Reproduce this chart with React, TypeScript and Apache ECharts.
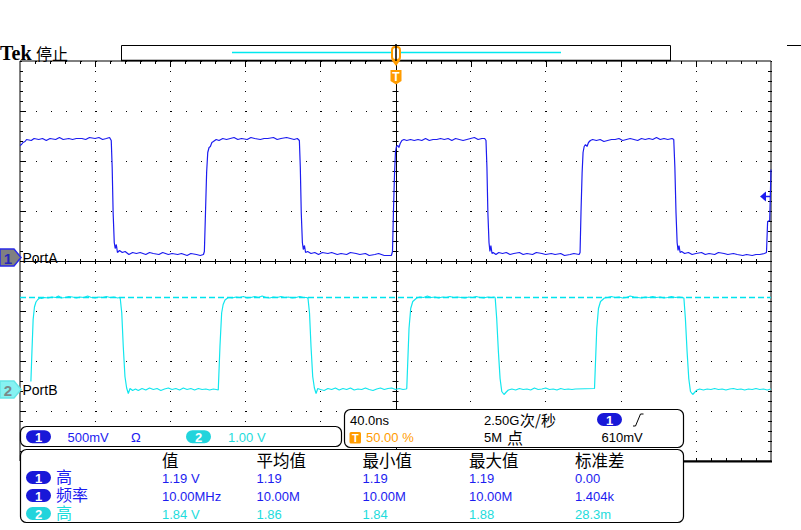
import React, { useEffect, useRef } from "react";
import * as echarts from "echarts";

// ---------------- data ----------------
const timeMin = -200; // ns (40 ns/div, trigger at centre)
const timeMax = 200;
const timeDiv = 40;

// channel 1 (500 mV/div) samples: [time ns, volts]
const ch1Wave: [number, number][] = [
  [-200, 1.12], [-199.2, 1.13], [-198.4, 1.15], [-197.3, 1.16], [-196.5, 1.18], [-194, 1.17], [-192.5, 1.19], [-190, 1.18], [-188, 1.19], [-186, 1.17], [-184, 1.19], [-181, 1.18], [-179, 1.2], [-177, 1.18], [-174, 1.19], [-172, 1.18], [-170, 1.19], [-167, 1.19], [-165, 1.18], [-163, 1.2], [-160, 1.19], [-158, 1.2], [-156, 1.18], [-154, 1.19], [-152.3, 1.2],
  [-151.4, 1.17], [-150.9, 0.9], [-150.4, 0.45], [-149.8, 0.15], [-149.3, 0.09], [-148.7, 0.13], [-148.1, 0.05], [-147, 0.07], [-145.5, 0.05], [-144, 0.06], [-142, 0.03], [-140, 0.05], [-138, 0.04], [-136, 0.05], [-133, 0.03], [-131, 0.05], [-129, 0.04], [-126, 0.03], [-124, 0.05], [-121, 0.03], [-119, 0.04], [-116, 0.03], [-114, 0.04], [-111, 0.02], [-109, 0.04], [-106, 0.03], [-104, 0.02], [-102.3, 0.03],
  [-101.8, 0.06], [-101.2, 0.45], [-100.6, 0.85], [-100, 1.05], [-99.3, 1.1], [-98.6, 1.11], [-97.8, 1.15], [-97, 1.16], [-95.5, 1.18], [-94, 1.17], [-92, 1.19], [-90, 1.18], [-88, 1.19], [-86, 1.2], [-84, 1.18], [-82, 1.19], [-79, 1.18], [-77, 1.2], [-75, 1.19], [-72, 1.18], [-70, 1.19], [-68, 1.19], [-65, 1.2], [-63, 1.18], [-61, 1.19], [-58, 1.2], [-56, 1.19], [-54, 1.18], [-52.3, 1.19],
  [-51.2, 1.17], [-50.7, 0.9], [-50.2, 0.45], [-49.6, 0.15], [-49.1, 0.08], [-48.5, 0.12], [-47.9, 0.05], [-46.8, 0.06], [-45, 0.04], [-43, 0.05], [-41, 0.03], [-39, 0.05], [-36, 0.04], [-34, 0.05], [-31, 0.03], [-29, 0.04], [-26, 0.03], [-24, 0.05], [-21, 0.04], [-19, 0.03], [-16, 0.04], [-14, 0.02], [-11, 0.03], [-9, 0.04], [-6, 0.02], [-4, 0.02], [-2.2, 0.02],
  [-1.6, 0.06], [-1.1, 0.45], [-0.5, 0.85], [0, 1.06], [0.5, 1.11], [1.2, 1.12], [1.8, 1.1], [2.5, 1.14], [3.4, 1.17], [4.5, 1.18], [6, 1.17], [8, 1.18], [10, 1.17], [12, 1.18], [14, 1.17], [16, 1.19], [18, 1.17], [20, 1.18], [22, 1.18], [24, 1.19], [26, 1.18], [28, 1.19], [30, 1.17], [32, 1.19], [34, 1.18], [36, 1.17], [38, 1.18], [40, 1.19], [42, 1.2], [44, 1.18], [46, 1.19], [47.5, 1.19],
  [48.2, 1.17], [48.7, 0.9], [49.2, 0.45], [49.8, 0.15], [50.3, 0.06], [50.8, 0.12], [51.4, 0.04], [52, 0.05], [53.5, 0.03], [55, 0.05], [57, 0.04], [59, 0.05], [61, 0.03], [63, 0.04], [66, 0.05], [68, 0.03], [70, 0.04], [73, 0.03], [75, 0.05], [78, 0.04], [80, 0.03], [83, 0.04], [85, 0.03], [88, 0.04], [90, 0.02], [93, 0.03], [95, 0.04], [97.8, 0.03],
  [98.3, 0.05], [98.8, 0.45], [99.4, 0.85], [99.9, 1.05], [100.5, 1.11], [101.2, 1.13], [102, 1.11], [102.8, 1.15], [103.8, 1.17], [105, 1.18], [107, 1.17], [109, 1.18], [111, 1.16], [113, 1.17], [115, 1.18], [117, 1.18], [119, 1.19], [121, 1.17], [123, 1.18], [125, 1.19], [127, 1.18], [129, 1.17], [131, 1.19], [133, 1.18], [135, 1.19], [137, 1.18], [139, 1.2], [141, 1.18], [143, 1.19], [145, 1.18], [147.3, 1.19],
  [148.2, 1.18], [148.8, 0.9], [149.4, 0.45], [150, 0.15], [150.5, 0.07], [151, 0.12], [151.6, 0.05], [152.4, 0.06], [154, 0.04], [156, 0.05], [158, 0.03], [160, 0.04], [163, 0.05], [165, 0.03], [167, 0.04], [170, 0.03], [172, 0.05], [175, 0.04], [177, 0.03], [180, 0.04], [182, 0.03], [185, 0.02], [187, 0.03], [190, 0.02], [192, 0.03], [194, 0.03], [196.5, 0.04],
  [197.6, 0.05], [198.2, 0.36], [199.3, 0.37], [200, 0.88],
];

// channel 2 (1.00 V/div) samples: [time ns, volts]
const ch2Wave: [number, number][] = [
  [-194.2, 0.16], [-193.6, 0.8], [-193, 1.4], [-192.3, 1.65], [-191.5, 1.75], [-190.5, 1.8], [-189.5, 1.83], [-188.5, 1.82], [-187, 1.84], [-185, 1.83], [-183, 1.85], [-181, 1.84], [-179.5, 1.87], [-178, 1.83], [-176, 1.84], [-174, 1.86], [-172, 1.85], [-170, 1.83], [-168, 1.85], [-166, 1.84], [-164, 1.87], [-162, 1.84], [-160, 1.83], [-158, 1.85], [-156, 1.84], [-154, 1.86], [-152, 1.84], [-150, 1.85], [-148, 1.83], [-147, 1.84],
  [-146.6, 1.82], [-145.8, 1.53], [-145, 0.86], [-144.1, 0.26], [-143.2, 0.03], [-142.3, -0.08], [-141.4, 0.02], [-140, -0.02], [-138.5, 0.01], [-137, -0.02], [-135, 0.02], [-133, -0.01], [-131, 0.03], [-129, 0.0], [-127, 0.02], [-125, -0.02], [-123, 0.01], [-121, 0.03], [-119, 0.0], [-117, 0.02], [-115, -0.01], [-113, 0.03], [-111, 0.0], [-109, 0.02], [-107, -0.01], [-105, 0.02], [-103, 0.0], [-101, 0.01], [-99, -0.01], [-97, 0.01], [-95.5, 0.0],
  [-94.4, -0.01], [-93.5, 0.86], [-92.6, 1.53], [-91.8, 1.7], [-90.8, 1.79], [-89.1, 1.84], [-87, 1.83], [-85, 1.85], [-83, 1.84], [-81, 1.86], [-79, 1.83], [-77, 1.84], [-75, 1.86], [-73, 1.84], [-71, 1.87], [-69, 1.84], [-67, 1.83], [-65, 1.85], [-63, 1.84], [-61, 1.86], [-59, 1.84], [-57, 1.85], [-55, 1.83], [-53, 1.84], [-51, 1.86], [-49, 1.84], [-47.2, 1.84],
  [-46.6, 1.82], [-45.8, 1.53], [-45, 0.86], [-44.1, 0.26], [-43.2, 0.03], [-42.3, -0.08], [-41.4, 0.02], [-40, 0.0], [-38, -0.02], [-36, 0.02], [-34, 0.0], [-32, 0.03], [-30, -0.01], [-28, 0.02], [-26, 0.0], [-24, 0.03], [-22, -0.01], [-20, 0.01], [-18, 0.0], [-16, 0.03], [-14, 0.0], [-12, -0.02], [-10, 0.01], [-8, 0.03], [-6, 0.0], [-4, 0.02], [-2, 0.03], [0, 0.0], [2, 0.02], [4, 0.0], [5.6, 0.01],
  [6, 0.02], [7.2, 1.22], [8.1, 1.62], [9.2, 1.76], [11.3, 1.83], [13, 1.85], [15, 1.84], [17, 1.87], [19, 1.84], [21, 1.85], [23, 1.83], [25, 1.85], [27, 1.84], [29, 1.86], [31, 1.84], [33, 1.85], [35, 1.84], [37, 1.83], [39, 1.85], [41, 1.84], [43, 1.86], [45, 1.84], [47, 1.83], [49, 1.85], [51, 1.84], [52.8, 1.85],
  [53.1, 1.83], [53.9, 1.42], [54.8, 0.76], [55.7, 0.22], [56.6, -0.04], [57.8, -0.1], [59, -0.05], [60.1, -0.01], [62, 0.01], [64, -0.01], [66, 0.02], [68, 0.0], [70, 0.01], [72, -0.01], [74, 0.03], [76, 0.0], [78, 0.01], [80, 0.03], [82, 0.0], [84, 0.01], [86, -0.01], [88, 0.02], [90, 0.0], [92, 0.01], [94, 0.0], [95.8, 0.01],
  [106, 0.02], [107.2, 1.22], [108.1, 1.62], [109.2, 1.76], [111.3, 1.83], [113, 1.84], [115, 1.86], [117, 1.84], [119, 1.85], [121, 1.83], [123, 1.84], [125, 1.87], [127, 1.85], [129, 1.84], [131, 1.83], [133, 1.85], [135, 1.84], [137, 1.86], [139, 1.84], [141, 1.85], [143, 1.83], [145, 1.84], [147, 1.86], [149, 1.84], [151, 1.85], [152.8, 1.84],
  [153.6, 1.83], [154.4, 1.42], [155.3, 0.76], [156.2, 0.22], [157.1, -0.04], [158.3, -0.1], [159.5, -0.05], [160.6, -0.01], [162, 0.01], [164, -0.01], [166, 0.01], [168, 0.0], [170, 0.02], [172, 0.0], [174, 0.01], [176, -0.01], [178, 0.01], [180, 0.02], [182, 0.0], [184, 0.01], [186, -0.01], [188, 0.01], [190, 0.0], [192, 0.02], [194, 0.0], [196, 0.01], [198, -0.01], [200, 0.01],
];

// vertical settings (volts at bottom/top of the 8-division screen)
const ch1Range = [-2.035, 1.965]; // 500 mV/div
const ch2Range = [-1.43, 6.57]; // 1.00 V/div
const ch2HighRef = 1.84;
const ch1TrigLevel = 0.61;

const ch1Label = "PortA";
const ch2Label = "PortB";
const readout = ["500mV", "Ω", "1.00 V"];
const timebaseTexts = ["40.0ns", "2.50G", "次/秒", "50.00 %", "5M", "点", "610mV"];
const measHeaders = ["值", "平均值", "最小值", "最大值", "标准差"];
const measChannels = ["1", "1", "2"];
const measNames = ["高", "频率", "高"];
const measValues = [
  ["1.19 V", "1.19", "1.19", "1.19", "0.00"],
  ["10.00MHz", "10.00M", "10.00M", "10.00M", "1.404k"],
  ["1.84 V", "1.86", "1.84", "1.88", "28.3m"],
];

// ---------------- styles ----------------
const BLUE = "#1c1cf0";
const BLUE_BADGE = "#1818d8";
const CYAN = "#12e6ee";
const CYAN_TEXT = "#1edcdc";
const CYAN_BADGE = "#22d4dc";
const ORANGE = "#ff9c00";
const SANS = '"Liberation Sans", Arial, sans-serif';
const CJK = '"Noto Sans CJK SC", "Noto Sans CJK JP", sans-serif';
// compact line box for the tightly stacked measurement table (CJK glyphs fall back to Noto Sans CJK)
const CJK_TIGHT = '"Liberation Serif", "Noto Sans CJK SC", sans-serif';

const G = { left: 20, top: 61, width: 751, height: 400 };

export default function App() {
  const ref = useRef<HTMLDivElement>(null);

  useEffect(() => {
    if (!ref.current) return;
    const chart = echarts.init(ref.current, undefined, { renderer: "svg" });

    const L = G.left, T = G.top, R = G.left + G.width, B = G.top + G.height;
    const CX = L + G.width / 2;
    const CY = T + G.height / 2;
    const px = (v: number) => Math.round(v) + 0.5;

    const el: any[] = [];
    const line = (x1: number, y1: number, x2: number, y2: number, stroke = "#000", lw = 1, z = 1) =>
      el.push({ type: "line", z, silent: true, shape: { x1, y1, x2, y2 }, style: { stroke, lineWidth: lw } });
    const txt = (x: number, y: number, text: string, o: any = {}) => {
      const size = o.size ?? 13;
      el.push({
        type: "text", x, y, z: o.z ?? 120, silent: true,
        style: {
          text, fill: o.color ?? "#000", fontSize: size, fontFamily: o.family ?? SANS,
          fontWeight: o.weight ?? "normal", align: o.align ?? "left", verticalAlign: "middle",
          lineHeight: o.lh ?? Math.round(size * 0.95),
        },
      });
    };
    const badge = (cx: number, cy: number, label: string, fill: string) => {
      el.push({ type: "rect", z: 115, silent: true, shape: { x: cx - 12.5, y: cy - 6.5, width: 25, height: 13, r: 6.5 }, style: { fill } });
      txt(cx, cy + 0.5, label, { color: "#fff", weight: "bold", size: 13, align: "center", lh: 12 });
    };

    // graticule crosshair and ticks
    line(px(CX), T, px(CX), B, "#000", 1, 1);
    line(L, px(CY), R, px(CY), "#000", 1, 1);
    const dxm = G.width / 50;
    const dym = G.height / 40;
    for (let i = 1; i < 50; i++) {
      const x = px(L + i * dxm);
      const major = i % 5 === 0;
      line(x, T, x, T + (major ? 6 : 3));
      line(x, CY - 2, x, CY + 3);
      line(x, B - 3, x, B);
    }
    for (let j = 1; j < 40; j++) {
      const y = px(T + j * dym);
      const major = j % 5 === 0;
      line(L, y, L + (major ? 6 : 3), y);
      line(CX - 3, y, CX + 3, y);
      line(R - 3, y, R, y);
    }
    line(683, B + 0.5, R + 1, B + 0.5, "#000", 2, 2);

    // header
    el.push({ type: "text", x: 0, y: 53, z: 120, style: { text: "Tek", fill: "#000", fontSize: 20, fontWeight: "bold", fontFamily: '"Liberation Serif", serif', verticalAlign: "middle", lineHeight: 18 } });
    txt(36, 52.5, "停止", { size: 16, family: CJK });
    el.push({ type: "rect", z: 5, shape: { x: 121.5, y: 45.5, width: 549, height: 15 }, style: { fill: "#fff", stroke: "#000", lineWidth: 1 } });
    line(121, 60.5, 671, 60.5, "#000", 1.5, 6);
    line(232, 52.5, 561, 52.5, "#00e8ee", 1.5, 6);
    line(787, 45.5, 801, 45.5, "#000", 1, 6);
    // trigger position marker in record view
    el.push({ type: "rect", z: 7, shape: { x: 392, y: 47, width: 8, height: 13, r: 3 }, style: { fill: "#fff", stroke: ORANGE, lineWidth: 2 } });
    el.push({ type: "polygon", z: 7, shape: { points: [[391.5, 60], [400.5, 60], [396, 66]] }, style: { fill: ORANGE } });
    line(396, 44, 396, 61, "#000", 1.5, 8);
    // T marker
    el.push({ type: "polygon", z: 7, shape: { points: [[390.5, 70], [401.5, 70], [401.5, 81], [396, 84.5], [390.5, 81]] }, style: { fill: ORANGE } });
    txt(396, 76.5, "T", { color: "#fff", weight: "bold", size: 12, align: "center", z: 9 });

    // panels
    const panel = (x: number, y: number, w: number, h: number) =>
      el.push({ type: "rect", z: 100, shape: { x, y, width: w, height: h, r: 6 }, style: { fill: "#fff", stroke: "#000", lineWidth: 1.2 } });
    panel(20.5, 426.5, 321, 20);
    panel(344.5, 409.5, 339, 38);
    panel(20.5, 449.5, 663, 73);

    // channel readout
    badge(38.5, 436.7, "1", BLUE_BADGE);
    txt(67.5, 437, readout[0], { color: BLUE });
    txt(131, 437, readout[1], { color: BLUE });
    badge(198.5, 436.7, "2", CYAN_BADGE);
    txt(228, 437, readout[2], { color: CYAN_TEXT });

    // timebase / trigger
    txt(350, 420, timebaseTexts[0]);
    txt(484, 420, timebaseTexts[1]);
    txt(520, 419.5, timebaseTexts[2], { family: CJK, size: 15 });
    badge(609.5, 419.5, "1", BLUE_BADGE);
    el.push({ type: "polyline", z: 120, shape: { points: [[633, 426], [635.5, 426], [640.5, 414], [643.5, 414]] }, style: { stroke: "#000", lineWidth: 1, fill: null } });
    el.push({ type: "rect", z: 115, shape: { x: 349.5, y: 432, width: 11.5, height: 11.5, r: 1.5 }, style: { fill: ORANGE } });
    txt(355.3, 438, "T", { color: "#fff", weight: "bold", size: 11, align: "center" });
    txt(366, 437.5, timebaseTexts[3], { color: ORANGE });
    txt(484, 437.5, timebaseTexts[4]);
    txt(507, 437, timebaseTexts[5], { family: CJK, size: 16 });
    txt(601.5, 437.5, timebaseTexts[6]);

    // measurements
    const colX = [162, 256.5, 362.5, 469, 575];
    const rowY = [478, 496, 514];
    measHeaders.forEach((h, i) => txt(colX[i], 461, h, { family: CJK_TIGHT, size: 16.5, lh: 15 }));
    measValues.forEach((row, r) => {
      const isCh2 = measChannels[r] === "2";
      const col = isCh2 ? CYAN_TEXT : BLUE;
      badge(38.5, rowY[r] - 0.5, measChannels[r], isCh2 ? CYAN_BADGE : BLUE_BADGE);
      txt(56, rowY[r] - 0.5, measNames[r], { family: CJK_TIGHT, size: 16, color: col, lh: 15 });
      row.forEach((v, c) => txt(colX[c], rowY[r], v, { color: col, lh: 13 }));
    });

    const option: any = {
      animation: false,
      backgroundColor: "#fff",
      grid: { left: G.left, top: G.top, width: G.width, height: G.height, show: true, borderColor: "#000", borderWidth: 1 },
      xAxis: {
        type: "value", min: timeMin, max: timeMax, interval: timeDiv,
        axisLine: { show: false }, axisTick: { show: false }, axisLabel: { show: false },
        splitLine: { show: true, lineStyle: { color: "#000", width: 1, type: [1, 9] } },
      },
      yAxis: [
        {
          type: "value", min: -4, max: 4, interval: 1,
          axisLine: { show: false }, axisTick: { show: false }, axisLabel: { show: false },
          splitLine: { show: true, lineStyle: { color: "#000", width: 1, type: [1, 14], dashOffset: -1 } },
        },
        { type: "value", min: ch1Range[0], max: ch1Range[1], show: false },
        { type: "value", min: ch2Range[0], max: ch2Range[1], show: false },
      ],
      series: [
        {
          type: "line", xAxisIndex: 0, yAxisIndex: 2, data: ch2Wave, showSymbol: false, symbol: "none",
          lineStyle: { color: CYAN, width: 1.2 }, z: 3, silent: true,
          markLine: {
            silent: true, symbol: "none", label: { show: false },
            lineStyle: { color: "#00e4ee", type: [6, 3], width: 1.3, opacity: 1 },
            data: [{ yAxis: ch2HighRef }],
          },
        },
        {
          type: "line", xAxisIndex: 0, yAxisIndex: 1, data: ch1Wave, showSymbol: false, symbol: "none",
          lineStyle: { color: BLUE, width: 1.2 }, z: 4, silent: true,
        },
      ],
      graphic: { elements: el },
    };
    chart.setOption(option);

    // markers placed through the axes' own scales
    const g1 = chart.convertToPixel({ xAxisIndex: 0, yAxisIndex: 1 } as any, [timeMin, 0]) as number[];
    const g2 = chart.convertToPixel({ xAxisIndex: 0, yAxisIndex: 2 } as any, [timeMin, 0]) as number[];
    const tr = chart.convertToPixel({ xAxisIndex: 0, yAxisIndex: 1 } as any, [timeMax, ch1TrigLevel]) as number[];
    const extra: any[] = [];
    const marker = (cy: number, fill: string, stroke: string, label: string, lc: string) => {
      extra.push({ type: "polygon", z: 130, shape: { points: [[0, cy - 8.5], [14, cy - 8.5], [21, cy], [14, cy + 8.5], [0, cy + 8.5]] }, style: { fill, stroke, lineWidth: 1.5 } });
      extra.push({ type: "text", x: 8, y: cy + 0.5, z: 131, style: { text: label, fill: lc, fontSize: 15, fontWeight: "bold", fontFamily: SANS, align: "center", verticalAlign: "middle", lineHeight: 14 } });
    };
    marker(g1[1], "#808080", "#2a2ae8", "1", "#2626b8");
    marker(g2[1], "#86f2f2", "#66e6e6", "2", "#7a8a8a");
    extra.push({ type: "text", x: 22.5, y: g1[1], z: 125, style: { text: ch1Label, fill: "#000", fontSize: 14, fontFamily: SANS, verticalAlign: "middle", lineHeight: 13 } });
    extra.push({ type: "text", x: 22.5, y: g2[1], z: 125, style: { text: ch2Label, fill: "#000", fontSize: 14, fontFamily: SANS, verticalAlign: "middle", lineHeight: 13 } });
    const ty = tr[1];
    extra.push({ type: "polygon", z: 130, shape: { points: [[tr[0] - 11, ty], [tr[0] - 5, ty - 5], [tr[0] - 5, ty + 5]] }, style: { fill: BLUE } });
    extra.push({ type: "line", z: 130, shape: { x1: tr[0] - 6, y1: ty, x2: tr[0], y2: ty }, style: { stroke: BLUE, lineWidth: 1.5 } });
    chart.setOption({ graphic: { elements: el.concat(extra) } });

    return () => chart.dispose();
  }, []);

  return <div ref={ref} style={{ position: "fixed", left: 0, top: 0, width: 801, height: 530, background: "#fff" }} />;
}
